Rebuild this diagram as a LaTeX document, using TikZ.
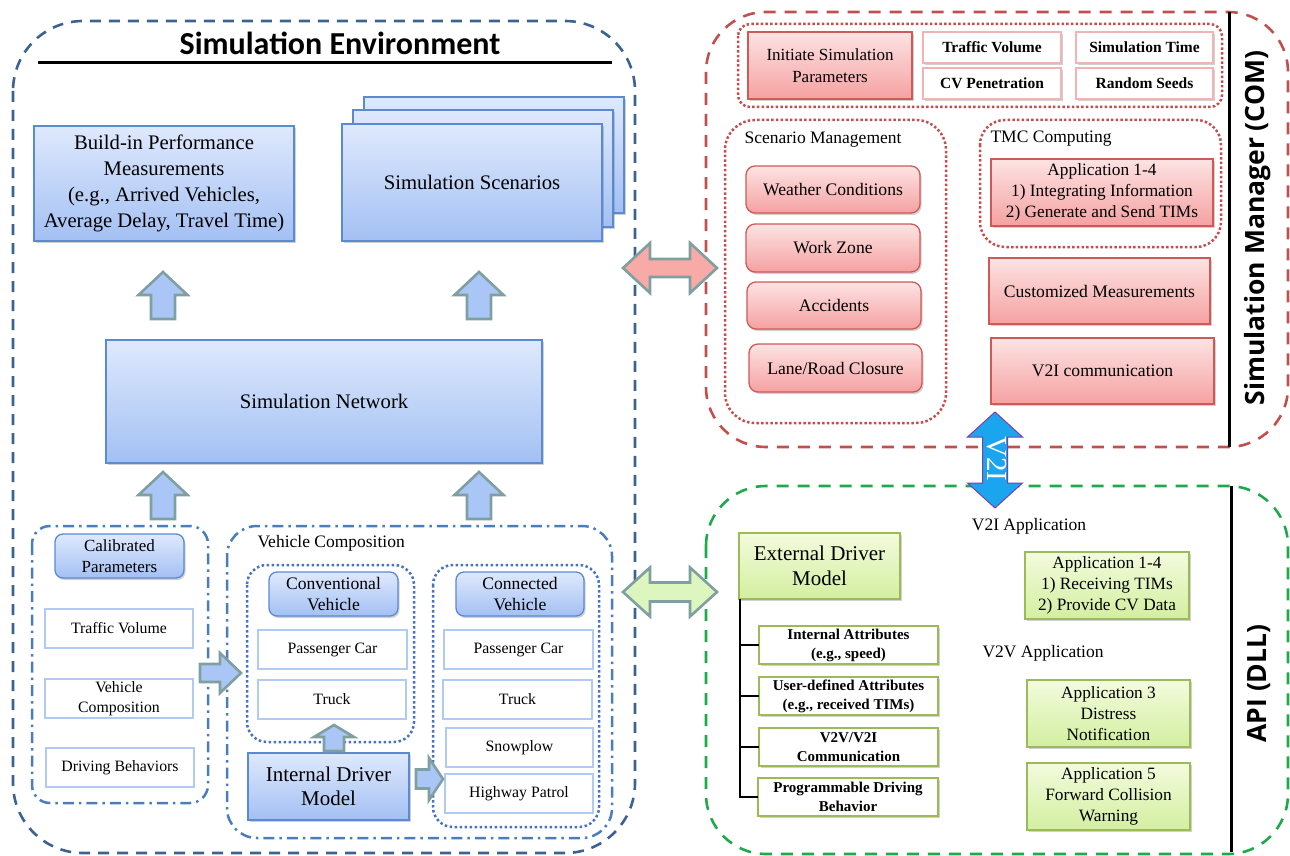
\documentclass[tikz,border=0pt]{standalone}
\usepackage{fontspec}
\setmainfont{Liberation Serif}
\newfontfamily\titlefont{Carlito}
\newfontfamily\sidefont{Open Sans}
\usetikzlibrary{calc,shadows}

\definecolor{envblue}{HTML}{3B6291}
\definecolor{ddblue}{HTML}{4A7EBB}
\definecolor{dotblue}{HTML}{4472C4}
\definecolor{bluetop}{HTML}{DFE9FD}
\definecolor{bluebot}{HTML}{A3C0F3}
\definecolor{blueedge}{HTML}{5A8AD2}
\definecolor{wbedge}{HTML}{B0CAF2}
\definecolor{comred}{HTML}{C0504D}
\definecolor{redtop}{HTML}{FDE3E3}
\definecolor{redbot}{HTML}{F5A1A1}
\definecolor{rededge}{HTML}{CD5A57}
\definecolor{wredge}{HTML}{F2B3B3}
\definecolor{dllgreen}{HTML}{1EAA4A}
\definecolor{greentop}{HTML}{F3FBDD}
\definecolor{greenbot}{HTML}{D3EFA0}
\definecolor{greenedge}{HTML}{9BBB59}
\definecolor{arrowedge}{HTML}{7F9FA0}
\definecolor{upfill}{HTML}{A9C6F6}
\definecolor{pinkfill}{HTML}{F8AAA6}
\definecolor{limefill}{HTML}{DDF5BE}
\definecolor{skyblue}{HTML}{1BA5EE}
\definecolor{vedge}{HTML}{7B3FA8}

% single block arrow: tail, tip, half shaft, half head, head length, style
\newcommand{\blockarr}[6]{%
  \coordinate (hb) at ($(#2)!#5!(#1)$);
  \path[#6] ($(#1)!#3!90:(#2)$) -- ($(hb)!#3!90:(#2)$) -- ($(hb)!#4!90:(#2)$) -- (#2)
    -- ($(hb)!#4!-90:(#2)$) -- ($(hb)!#3!-90:(#2)$) -- ($(#1)!#3!-90:(#2)$) -- cycle;}
% double block arrow: end A, end B, half shaft, half head, head length, style
\newcommand{\dblarr}[6]{%
  \coordinate (ha) at ($(#1)!#5!(#2)$);
  \coordinate (hc) at ($(#2)!#5!(#1)$);
  \path[#6] (#1) -- ($(ha)!#4!90:(#2)$) -- ($(ha)!#3!90:(#2)$) -- ($(hc)!#3!90:(#2)$)
    -- ($(hc)!#4!90:(#2)$) -- (#2) -- ($(hc)!#4!-90:(#2)$) -- ($(hc)!#3!-90:(#2)$)
    -- ($(ha)!#3!-90:(#2)$) -- ($(ha)!#4!-90:(#2)$) -- cycle;}

\tikzset{
  sh/.style={drop shadow={shadow xshift=1.5pt,shadow yshift=-2pt,opacity=0.3,fill=black!60}},
  base/.style={align=center, inner sep=1pt, outer sep=0pt},
  sz/.style 2 args={minimum width=#1pt, minimum height=#2pt},
  bluebox/.style={base, draw=blueedge, line width=1.3pt, top color=bluetop, bottom color=bluebot, sh},
  redbox/.style={base, draw=rededge, line width=1.3pt, top color=redtop, bottom color=redbot, sh},
  greenbox/.style={base, draw=greenedge, line width=1.3pt, top color=greentop, bottom color=greenbot, sh},
  wblue/.style={base, draw=wbedge, line width=1.2pt, fill=white, font=\fontsize{15.8}{19.5}\selectfont},
  wred/.style={base, draw=wredge, line width=1.3pt, fill=white, sh, font=\bfseries\fontsize{15.5}{17}\selectfont},
  wgreen/.style={base, draw=greenedge, line width=1.3pt, fill=white, sh, font=\bfseries\fontsize{15}{19}\selectfont},
  fbig/.style={font=\fontsize{20.7}{26}\selectfont},
  fmid/.style={font=\fontsize{17.6}{21.5}\selectfont},
  fapp/.style={font=\fontsize{17.3}{21}\selectfont},
  fidm/.style={font=\fontsize{21}{24.5}\selectfont},
  flabel/.style={font=\fontsize{17.5}{20}\selectfont},
  envdash/.style={draw=envblue, line width=2.6pt, dash pattern=on 11pt off 8pt},
  ddash/.style={draw=ddblue, line width=2.5pt, dash pattern=on 11pt off 5pt on 2.5pt off 5pt},
  bdots/.style={draw=dotblue, line width=2.5pt, dash pattern=on 2.5pt off 2.5pt},
  rdash/.style={draw=comred, line width=2.6pt, dash pattern=on 12pt off 9pt},
  rdots/.style={draw=comred, line width=2.5pt, dash pattern=on 2.5pt off 2.2pt},
  gdash/.style={draw=dllgreen, line width=2.6pt, dash pattern=on 12pt off 9pt},
  uparrow/.style={fill=upfill, draw=arrowedge, line width=2.6pt},
  redarrow/.style={fill=pinkfill, draw=arrowedge, line width=2.6pt},
  greenarrow/.style={fill=limefill, draw=arrowedge, line width=2.6pt},
  v2iarrow/.style={fill=skyblue, draw=vedge, line width=1pt},
  sidelabel/.style={font=\sidefont\bfseries\fontsize{26.5}{30}\selectfont, rotate=90}
}

\begin{document}
\begin{tikzpicture}[x=1pt,y=-1pt]
\useasboundingbox (0,0) rectangle (1290,856);

% ---------------- containers ----------------
\draw[envdash, rounded corners=70pt] (13,21) rectangle (635,853);
\draw[ddash, rounded corners=18pt] (32,526) rectangle (208,803);
\draw[ddash, rounded corners=30pt] (227,526) rectangle (612,838);
\draw[bdots, rounded corners=20pt] (247,565) rectangle (414,742);
\draw[bdots, rounded corners=20pt] (433,565) rectangle (599,827);

\draw[rdash, rounded corners=60pt] (706,12) rectangle (1288,447);
\draw[rdots, rounded corners=12pt] (738,24) rectangle (1222,107);
\draw[rdots, rounded corners=30pt] (725,120) rectangle (946,423);
\draw[rdots, rounded corners=25pt] (980,120) rectangle (1221,247);
\draw[line width=3pt] (1229,12) -- (1229,447);

\draw[gdash, rounded corners=60pt] (706,486) rectangle (1288,854);
\draw[line width=3pt] (1231,486) -- (1231,852);

% ---------------- titles ----------------
\node (envtitle) at (340,43) {\titlefont\bfseries\fontsize{32}{34}\selectfont Simulation Environment};
\draw[line width=3pt] (38,63) -- (612,63);
\node[sidelabel] (comtitle) at (1258,228) {Simulation Manager (COM)};
\node[sidelabel] (dlltitle) at (1259,683.5) {API (DLL)};

% ---------------- simulation environment ----------------
\node[bluebox, fbig, sz={260}{115}] (bim) at (164,183.5)
  {Build-in Performance\\Measurements\\(e.g., Arrived Vehicles,\\Average Delay, Travel Time)};
\node[bluebox, sz={260}{116}] (scen3) at (494,155) {};
\node[bluebox, sz={260}{117}] (scen2) at (483,168.5) {};
\node[bluebox, fbig, sz={260}{117}] (scen) at (472,182.5) {Simulation Scenarios};
\node[bluebox, fbig, sz={436}{123}] (net) at (324,401.5) {Simulation Network};

\node[bluebox, font=\fontsize{17}{21}\selectfont, rounded corners=8pt, sz={129}{44}] (calp) at (119.5,556) {Calibrated\\Parameters};
\node[wblue, sz={148}{39}] (ltv) at (119,628.5) {Traffic Volume};
\node[wblue, sz={148}{39}] (lvc) at (119,698.5) {Vehicle\\Composition};
\node[wblue, sz={148}{39}] (ldb) at (120,767.5) {Driving Behaviors};

\node[flabel, anchor=west] (vclabel) at (254,543) {Vehicle Composition};
\node[bluebox, fmid, rounded corners=8pt, sz={129}{44}] (convv) at (333.5,594) {Conventional\\Vehicle};
\node[wblue, sz={149}{39}] (cpc) at (332.5,649.5) {Passenger Car};
\node[wblue, sz={148}{39}] (ctr) at (332,699.5) {Truck};
\node[bluebox, fidm, sz={161}{67}] (idm) at (328.5,786.5) {Internal Driver\\Model};

\node[bluebox, fmid, rounded corners=8pt, sz={128}{44}] (connv) at (520,594) {Connected\\Vehicle};
\node[wblue, sz={149}{39}] (npc) at (518.5,649.5) {Passenger Car};
\node[wblue, sz={149}{39}] (ntr) at (517.5,699.5) {Truck};
\node[wblue, sz={147}{39}] (nsp) at (519.5,747.5) {Snowplow};
\node[wblue, sz={148}{39}] (nhp) at (519,793.5) {Highway Patrol};

% ---------------- simulation manager ----------------
\node[redbox, font=\fontsize{17}{22}\selectfont, sz={164}{67}] (isp) at (830,65.5) {Initiate Simulation\\Parameters};
\node[wred, sz={138}{31}] (rtv) at (992,47.5) {Traffic Volume};
\node[wred, sz={138}{31}] (rcv) at (992,83.5) {CV Penetration};
\node[wred, sz={137}{31}] (rst) at (1144.5,47.5) {Simulation Time};
\node[wred, sz={137}{31}] (rrs) at (1144.5,83.5) {Random Seeds};

\node[flabel, anchor=west] (smlabel) at (741,140) {Scenario Management};
\node[redbox, fmid, rounded corners=9pt, sz={174}{47}] (wc) at (833,189.5) {Weather Conditions};
\node[redbox, fmid, rounded corners=9pt, sz={174}{48}] (wz) at (833,248) {Work Zone};
\node[redbox, fmid, rounded corners=9pt, sz={174}{47}] (acc) at (834,305.5) {Accidents};
\node[redbox, fmid, rounded corners=9pt, sz={173}{48}] (lrc) at (835.5,368) {Lane/Road Closure};

\node[flabel, anchor=west] (tmclabel) at (987,139) {TMC Computing};
\node[redbox, fapp, sz={222}{67}] (app14r) at (1102,192.5)
  {Application 1-4\\1) Integrating Information\\2) Generate and Send TIMs};
\node[redbox, fmid, sz={221}{66}] (cust) at (1099.5,291) {Customized Measurements};
\node[redbox, fmid, sz={223}{66}] (v2ic) at (1102.5,371) {V2I communication};

% ---------------- API (DLL) ----------------
\node[flabel] (v2ilabel) at (1029,526) {V2I Application};
\node[flabel] (v2vlabel) at (1043,653) {V2V Application};
\node[greenbox, fidm, sz={161}{66}] (edm) at (819.5,566) {External Driver\\Model};
\node[wgreen, sz={179}{38}] (ia) at (848.5,645) {Internal Attributes\\(e.g., speed)};
\node[wgreen, sz={179}{38}] (ud) at (848.5,696) {User-defined Attributes\\(e.g., received TIMs)};
\node[wgreen, sz={179}{38}] (vv) at (848.5,747) {V2V/V2I\\Communication};
\node[wgreen, sz={180}{38}] (pdb) at (848,797) {Programmable Driving\\Behavior};
\node[greenbox, fapp, sz={164}{67}] (ga14) at (1107,585.5)
  {Application 1-4\\1) Receiving TIMs\\2) Provide CV Data};
\node[greenbox, fapp, sz={163}{67}] (ga3) at (1108.5,713.5)
  {Application 3\\Distress\\Notification};
\node[greenbox, fapp, sz={163}{67}] (ga5) at (1108.5,796.5)
  {Application 5\\Forward Collision\\Warning};

\foreach \t in {ia,ud,vv,pdb}
  \draw[line width=1.2pt] ($(edm.south west)+(1,0)$) |- (\t.west);

% ---------------- block arrows ----------------
\coordinate (u1a) at (163,319); \coordinate (u1b) at (163,272);
\coordinate (u2a) at (479,319); \coordinate (u2b) at (479,272);
\coordinate (u3a) at (163,519); \coordinate (u3b) at (163,472);
\coordinate (u4a) at (479,519); \coordinate (u4b) at (479,472);
\coordinate (r1a) at (200,673); \coordinate (r1b) at (241,673);
\coordinate (u5a) at (334,751); \coordinate (u5b) at (334,725);
\coordinate (r2a) at (416,779); \coordinate (r2b) at (443,779);
\coordinate (d1a) at (623,268); \coordinate (d1b) at (717,268);
\coordinate (d2a) at (623,592); \coordinate (d2b) at (717,592);
\coordinate (d3a) at (995,412); \coordinate (d3b) at (995,508);

\blockarr{u1a}{u1b}{12pt}{24.5pt}{23pt}{uparrow}
\blockarr{u2a}{u2b}{12pt}{24.5pt}{23pt}{uparrow}
\blockarr{u3a}{u3b}{12pt}{24.5pt}{23pt}{uparrow}
\blockarr{u4a}{u4b}{12pt}{24.5pt}{23pt}{uparrow}
\blockarr{r1a}{r1b}{9pt}{20pt}{21pt}{uparrow}
\blockarr{u5a}{u5b}{10pt}{20pt}{12pt}{uparrow}
\blockarr{r2a}{r2b}{9.5pt}{21pt}{14pt}{uparrow}
\dblarr{d1a}{d1b}{9pt}{25pt}{27pt}{redarrow}
\dblarr{d2a}{d2b}{9.5pt}{24.5pt}{27pt}{greenarrow}
\dblarr{d3a}{d3b}{12.5pt}{27.5pt}{25pt}{v2iarrow}
\node[rotate=-90, text=white, font=\fontsize{29}{30}\selectfont, inner sep=0pt] (v2itext) at (997,459) {V2I};

\end{tikzpicture}
\end{document}
